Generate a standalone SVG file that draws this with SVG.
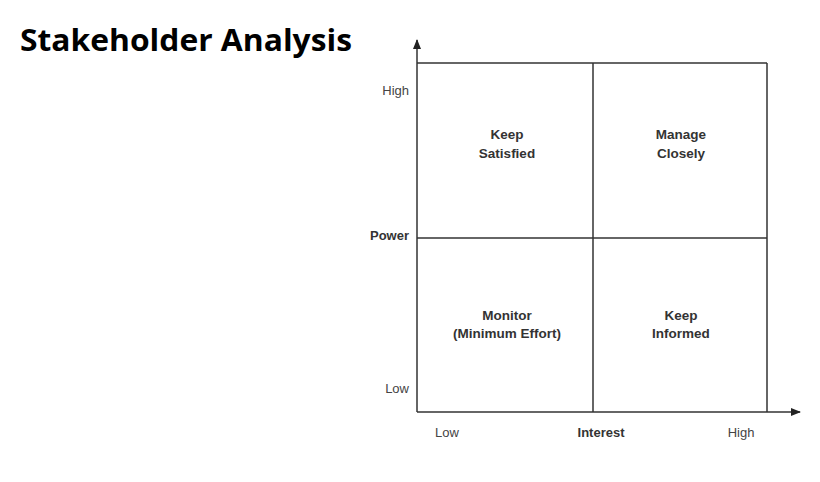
<svg xmlns="http://www.w3.org/2000/svg" width="820" height="482" viewBox="0 0 820 482">
<style>
.ax{font-family:"Liberation Sans",Arial,sans-serif;font-size:13px;fill:#444}
.b{font-weight:bold;fill:#333}
.q{font-family:"Liberation Sans",Arial,sans-serif;font-size:13.5px;font-weight:bold;fill:#333;text-anchor:middle}
.ln{stroke:#333;stroke-width:1.5;fill:none}
</style>
<defs><marker id="ar" markerWidth="10" markerHeight="10" refX="9" refY="5" orient="auto" markerUnits="userSpaceOnUse"><path d="M0,1 L10,5 L0,9 Z" fill="#222"/></marker></defs>
<rect width="820" height="482" fill="#fff"/>
<text x="20" y="51" font-family="'Open Sans','Liberation Sans',sans-serif" font-size="30" font-weight="bold" fill="#000" textLength="332" lengthAdjust="spacingAndGlyphs">Stakeholder Analysis</text>
<g id="connectors">
<line class="ln" x1="417" y1="412" x2="417" y2="40" marker-end="url(#ar)"/>
<line class="ln" x1="417" y1="412" x2="800" y2="412" marker-end="url(#ar)"/>
<line class="ln" x1="417" y1="63" x2="767" y2="63"/>
<line class="ln" x1="767" y1="63" x2="767" y2="412"/>
<line class="ln" x1="593" y1="63" x2="593" y2="412"/>
<line class="ln" x1="417" y1="238" x2="767" y2="238"/>
</g>
<g id="labels">
<text class="ax" x="409" y="95" text-anchor="end">High</text>
<text class="ax b" x="409" y="240" text-anchor="end">Power</text>
<text class="ax" x="409" y="393" text-anchor="end">Low</text>
<text class="ax" x="447" y="437" text-anchor="middle">Low</text>
<text class="ax b" x="601" y="437" text-anchor="middle">Interest</text>
<text class="ax" x="741" y="437" text-anchor="middle">High</text>
</g>
<g id="q1"><text class="q" x="507" y="139">Keep</text><text class="q" x="507" y="158">Satisfied</text></g>
<g id="q2"><text class="q" x="681" y="139">Manage</text><text class="q" x="681" y="158">Closely</text></g>
<g id="q3"><text class="q" x="507" y="320">Monitor</text><text class="q" x="507" y="338">(Minimum Effort)</text></g>
<g id="q4"><text class="q" x="681" y="320">Keep</text><text class="q" x="681" y="338">Informed</text></g>
</svg>
